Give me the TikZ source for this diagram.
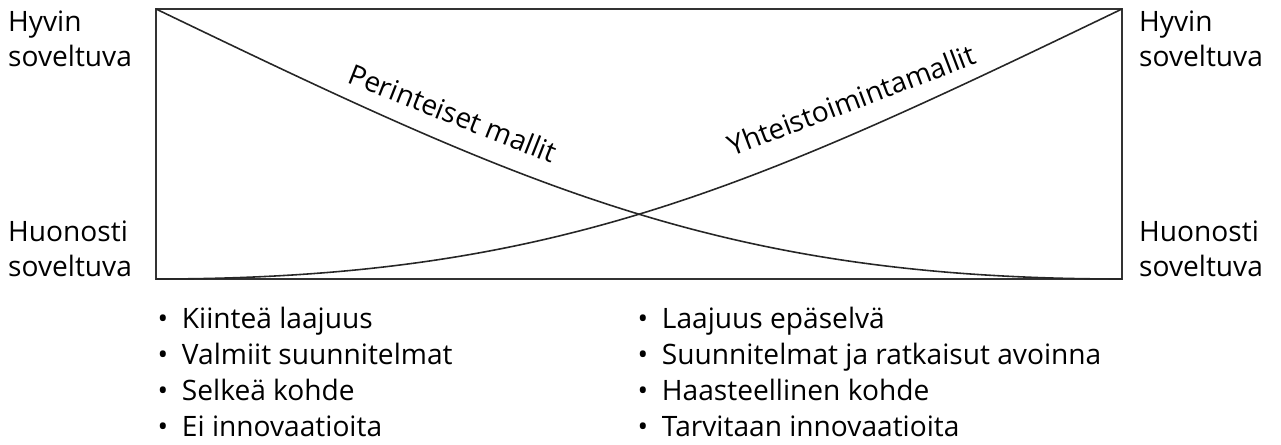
\documentclass[tikz,border=0pt]{standalone}
\usepackage{fontspec}
\setmainfont{Open Sans}
\usepackage{tikz}
\tikzset{>=latex}
\tikzset{
  side/.style={align=left,inner sep=0pt,anchor=base west,font=\fontsize{8}{9.96}\selectfont},
  lista/.style={align=left,inner sep=0pt,anchor=base west,font=\fontsize{8}{10.25}\selectfont},
  kayra/.style={draw=black!85,line width=0.45pt},
  nimi/.style={inner sep=0pt,anchor=base,font=\fontsize{8}{10}\selectfont}
}
\newcommand{\kohta}[1]{\textbullet\hspace{3.9pt}#1}

\begin{document}
\begin{tikzpicture}
\useasboundingbox (0,0) rectangle (12.81,-4.45);
% corners of the box
\coordinate (tl) at (1.56,-0.09);
\coordinate (tr) at (11.22,-0.09);
\coordinate (bl) at (1.56,-2.79);
\coordinate (br) at (11.22,-2.79);
\path [draw=black!80,line width=0.6pt] (tl) rectangle (br);
% the two curves
\path [kayra] (tl) .. controls (5.26,-1.87) and (7.22,-2.79) .. (br);
\path [kayra] (bl) .. controls (5.56,-2.79) and (7.52,-1.87) .. (tr);
\node[nimi,rotate=-21.6] (perint) at (4.49,-1.23) {Perinteiset mallit};
\node[nimi,rotate=20.8] (yhteis) at (8.55,-1.10) {Yhteistoimintamallit};
% scale labels on both sides (base = last line)
\node[side] (hyvinV) at (0.075,-0.67) {Hyvin\\soveltuva};
\node[side] (huonoV) at (0.075,-2.77) {Huonosti\\soveltuva};
\node[side] (hyvinO) at (11.385,-0.67) {Hyvin\\soveltuva};
\node[side] (huonoO) at (11.385,-2.77) {Huonosti\\soveltuva};
% properties under the box
\node[lista] (vasen) at (1.57,-4.37) {\kohta{Kiinteä laajuus}\\\kohta{Valmiit suunnitelmat}\\\kohta{Selkeä kohde}\\\kohta{Ei innovaatioita}};
\node[lista] (oikea) at (6.37,-4.37) {\kohta{Laajuus epäselvä}\\\kohta{Suunnitelmat ja ratkaisut avoinna}\\\kohta{Haasteellinen kohde}\\\kohta{Tarvitaan innovaatioita}};
\end{tikzpicture}
\end{document}
